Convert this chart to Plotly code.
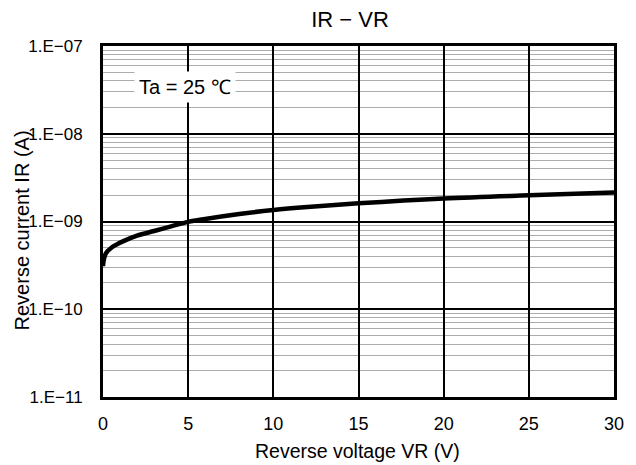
import plotly.graph_objects as go

# Data
vr = [0, 0.03, 0.08, 0.15, 0.25, 0.4, 0.6, 0.9, 1.3, 2, 3, 4, 5, 6, 8, 10, 12, 15, 20, 25, 30]
ir = [3.1e-10, 3.5e-10, 3.9e-10, 4.25e-10, 4.55e-10, 4.85e-10, 5.2e-10, 5.6e-10, 6.1e-10,
      6.9e-10, 7.8e-10, 8.8e-10, 9.9e-10, 1.07e-9, 1.22e-9, 1.35e-9, 1.46e-9, 1.61e-9,
      1.83e-9, 1.99e-9, 2.14e-9]

x_ticks = [0, 5, 10, 15, 20, 25, 30]
y_tickvals = [1e-11, 1e-10, 1e-9, 1e-8, 1e-7]
y_ticktext = ["1.E−11", "1.E−10", "1.E−09", "1.E−08", "1.E−07"]

FONT = "Liberation Sans, Arial, sans-serif"

fig = go.Figure()
fig.add_trace(go.Scatter(x=vr, y=ir, mode="lines",
                         line=dict(color="black", width=4.5, shape="spline"),
                         showlegend=False, hoverinfo="skip"))

fig.update_layout(
    width=636, height=465,
    margin=dict(l=103, r=19, t=46, b=68),
    paper_bgcolor="white", plot_bgcolor="white",
    font=dict(family=FONT, size=16, color="black"),
    title=dict(text="IR − VR", x=350 / 636, xanchor="center",
               y=1 - 19 / 465, yanchor="middle", yref="container",
               font=dict(size=22, family=FONT)),
    xaxis=dict(range=[0, 30], tickvals=x_ticks, ticktext=[str(t) for t in x_ticks],
               showgrid=True, gridcolor="black", gridwidth=2,
               showline=True, linecolor="black", linewidth=3, mirror=True,
               ticks="", ticklabelstandoff=8, zeroline=False,
               tickfont=dict(size=18, family=FONT)),
    yaxis=dict(type="log", range=[-11, -7], tickvals=y_tickvals, ticktext=y_ticktext,
               showgrid=True, gridcolor="black", gridwidth=2,
               showline=True, linecolor="black", linewidth=3, mirror=True,
               ticks="", ticklabelstandoff=14, zeroline=False,
               minor=dict(showgrid=True, gridcolor="#acacac", gridwidth=1, dtick="D1", ticks=""),
               tickfont=dict(size=17, family=FONT)),
)

# Axis titles placed as text
fig.add_annotation(x=(22 - 103) / 514, y=(397 - 230) / 351, xref="paper", yref="paper",
                   text="Reverse current IR (A)", textangle=-90, showarrow=False,
                   xanchor="center", yanchor="middle",
                   font=dict(size=20, family=FONT, color="black"))
fig.add_annotation(x=(359 - 103) / 514, y=(397 - 451) / 351, xref="paper", yref="paper",
                   text="Reverse voltage VR (V)", showarrow=False,
                   xanchor="center", yanchor="middle",
                   font=dict(size=19.5, family=FONT, color="black"))

fig.add_annotation(x=4.8, y=-7.47, xref="x", yref="y", text="Ta = 25 ℃",
                   showarrow=False, bgcolor="white", borderpad=4,
                   font=dict(size=20, family=FONT, color="black"))

fig.write_html("out.html")
